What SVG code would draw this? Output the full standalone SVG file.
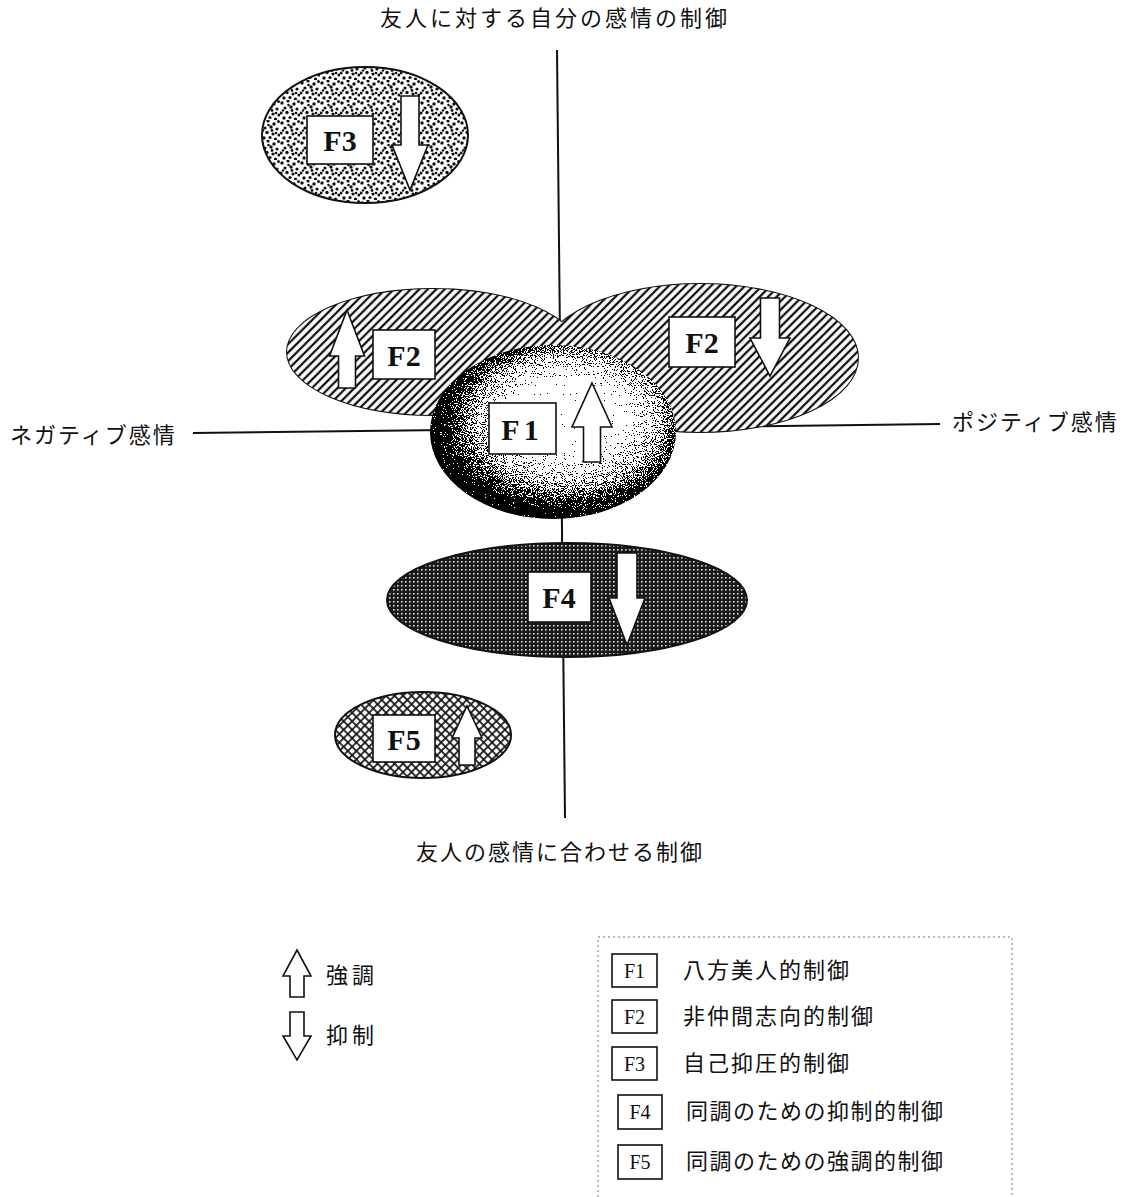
<svg xmlns="http://www.w3.org/2000/svg" width="1130" height="1197" viewBox="0 0 1130 1197">
<style>
.jp{font-family:"Noto Sans CJK JP","Noto Sans CJK SC",sans-serif;font-size:22px;fill:#111;}
.bx{fill:#fff;stroke:#111;stroke-width:1.6;}
.bt{font-family:"Liberation Serif",serif;font-weight:bold;font-size:30px;fill:#111;text-anchor:middle;dominant-baseline:central;}
.lt{font-family:"Liberation Serif",serif;font-size:20px;fill:#111;text-anchor:middle;dominant-baseline:central;}
.arr{fill:#fff;stroke:#111;stroke-width:1.6;stroke-linejoin:miter;}
.ax{stroke:#111;stroke-width:2;fill:none;}
.ol{fill:none;stroke:#111;stroke-width:2;}
</style>
<defs>
<pattern id="stip" width="20" height="20" patternUnits="userSpaceOnUse">
<rect width="20" height="20" fill="#fff"/>
<g fill="#111">
<circle cx="2" cy="3" r="1.7"/><circle cx="8" cy="1" r="1.6"/><circle cx="14" cy="4" r="1.7"/><circle cx="18.5" cy="1.5" r="1.5"/>
<circle cx="5" cy="8" r="1.6"/><circle cx="11" cy="7" r="1.7"/><circle cx="17" cy="9" r="1.6"/><circle cx="1" cy="13" r="1.6"/>
<circle cx="7" cy="12.5" r="1.7"/><circle cx="13" cy="14" r="1.6"/><circle cx="19" cy="15" r="1.6"/><circle cx="4" cy="18" r="1.7"/>
<circle cx="10" cy="17.5" r="1.6"/><circle cx="15.5" cy="19" r="1.6"/><circle cx="12" cy="10.5" r="1.4"/><circle cx="8.5" cy="5" r="1.3"/>
<circle cx="16" cy="13" r="1.3"/><circle cx="3" cy="10.5" r="1.2"/>
</g>
</pattern>
<pattern id="hatch" width="6" height="6" patternUnits="userSpaceOnUse" patternTransform="rotate(-45)">
<rect width="6" height="6" fill="#fff"/>
<line x1="0" y1="3" x2="6" y2="3" stroke="#111" stroke-width="2.3"/>
</pattern>
<pattern id="cross" width="6" height="6" patternUnits="userSpaceOnUse" patternTransform="rotate(45)">
<rect width="6" height="6" fill="#fff"/>
<line x1="0" y1="3" x2="6" y2="3" stroke="#111" stroke-width="1.7"/>
<line x1="3" y1="0" x2="3" y2="6" stroke="#111" stroke-width="1.7"/>
</pattern>
<pattern id="grid" width="4" height="4" patternUnits="userSpaceOnUse">
<rect width="4" height="4" fill="#1a1a1a"/>
<rect x="1" y="1" width="1.6" height="1.6" fill="#ddd"/>
</pattern>
<radialGradient id="f1g" cx="0.55" cy="0.45" r="0.56" fx="0.58" fy="0.38">
<stop offset="0" stop-color="#fff"/>
<stop offset="0.38" stop-color="#fafafa"/>
<stop offset="0.68" stop-color="#9a9a9a"/>
<stop offset="0.88" stop-color="#333"/>
<stop offset="1" stop-color="#000"/>
</radialGradient>
<filter id="dither" x="0" y="0" width="1" height="1" color-interpolation-filters="sRGB">
<feTurbulence type="fractalNoise" baseFrequency="0.9" numOctaves="1" seed="7" result="n"/>
<feColorMatrix in="n" type="matrix" values="2.2 0 0 0 -0.6  2.2 0 0 0 -0.6  2.2 0 0 0 -0.6  0 0 0 0 1" result="g"/>
<feComposite in="SourceGraphic" in2="g" operator="arithmetic" k1="0" k2="1" k3="1" k4="-0.5" result="s"/>
<feComponentTransfer in="s" result="t">
<feFuncR type="discrete" tableValues="0 1"/>
<feFuncG type="discrete" tableValues="0 1"/>
<feFuncB type="discrete" tableValues="0 1"/>
<feFuncA type="linear" slope="1"/>
</feComponentTransfer>
<feComposite in="t" in2="SourceAlpha" operator="in"/>
</filter>
</defs>

<g id="axes">
<line class="ax" x1="557" y1="50" x2="565" y2="818"/>
<line class="ax" x1="193" y1="433" x2="940" y2="424"/>
</g>

<g id="labels">
<text class="jp" x="555" y="26" text-anchor="middle" letter-spacing="3">友人に対する自分の感情の制御</text>
<text class="jp" x="10" y="443" letter-spacing="2">ネガティブ感情</text>
<text class="jp" x="952" y="430" letter-spacing="2">ポジティブ感情</text>
<text class="jp" x="560" y="860" text-anchor="middle" letter-spacing="2">友人の感情に合わせる制御</text>
</g>

<g id="F3">
<ellipse cx="365" cy="135" rx="103" ry="68" fill="url(#stip)" stroke="#111" stroke-width="2"/>
<rect class="bx" x="307" y="116" width="66" height="48"/>
<text class="bt" x="340" y="140">F3</text>
<path class="arr" d="M401,96 L419,96 L419,145 L428,145 L410,190 L392,145 L401,145 Z"/>
</g>

<g id="F2">
<ellipse class="ol" cx="700" cy="358" rx="158" ry="74"/>
<ellipse class="ol" cx="433" cy="352" rx="146" ry="63"/>
<ellipse cx="700" cy="358" rx="158" ry="74" fill="url(#hatch)"/>
<ellipse cx="433" cy="352" rx="146" ry="63" fill="url(#hatch)"/>
<rect class="bx" x="373" y="330" width="62" height="49"/>
<text class="bt" x="404" y="355">F2</text>
<path class="arr" d="M347,310 L364.5,356 L355.5,356 L355.5,388 L338.5,388 L338.5,356 L329.5,356 Z"/>
<rect class="bx" x="669" y="317" width="66" height="50"/>
<text class="bt" x="702" y="342">F2</text>
<path class="arr" d="M760.5,298 L779.5,298 L779.5,338 L790,338 L770,376 L750,338 L760.5,338 Z"/>
</g>

<g id="F1">
<ellipse cx="553" cy="432" rx="123" ry="87" fill="url(#f1g)" filter="url(#dither)"/>
<rect class="bx" x="489" y="403" width="67" height="51"/>
<text class="bt" x="522" y="429" letter-spacing="4">F1</text>
<path class="arr" d="M592,383 L612,427 L600.5,427 L600.5,462 L583.5,462 L583.5,427 L572,427 Z"/>
</g>

<g id="F4">
<ellipse cx="567" cy="600" rx="180" ry="57" fill="url(#grid)" stroke="#111" stroke-width="2"/>
<rect class="bx" x="528" y="572" width="63" height="50"/>
<text class="bt" x="559" y="597">F4</text>
<path class="arr" d="M617,553 L637,553 L637,598 L645,598 L627,645 L609,598 L617,598 Z"/>
</g>

<g id="F5">
<ellipse cx="423" cy="735" rx="88" ry="43" fill="url(#cross)" stroke="#111" stroke-width="2"/>
<rect class="bx" x="373" y="715" width="62" height="47"/>
<text class="bt" x="404" y="739">F5</text>
<path class="arr" d="M467,706 L482,738 L475,738 L475,765 L459,765 L459,738 L452,738 Z"/>
</g>

<g id="legend-arrows">
<path class="arr" d="M297,950 L311,976 L304,976 L304,997 L290,997 L290,976 L283,976 Z"/>
<text class="jp" x="326" y="983" font-size="20" letter-spacing="4">強調</text>
<path class="arr" d="M290,1012 L304,1012 L304,1036 L311,1036 L297,1060 L283,1036 L290,1036 Z"/>
<text class="jp" x="326" y="1043" font-size="20" letter-spacing="4">抑制</text>
</g>

<g id="legend">
<path d="M598,1197 L598,937 L1012,937 L1012,1197" fill="none" stroke="#777" stroke-width="1" stroke-dasharray="2 3"/>
<rect class="bx" x="612" y="954" width="45" height="33"/>
<text class="lt" x="634.5" y="971">F1</text>
<text class="jp" x="683" y="978" letter-spacing="2">八方美人的制御</text>
<rect class="bx" x="612" y="1000" width="45" height="33"/>
<text class="lt" x="634.5" y="1017">F2</text>
<text class="jp" x="683" y="1024" letter-spacing="2">非仲間志向的制御</text>
<rect class="bx" x="612" y="1047" width="45" height="33"/>
<text class="lt" x="634.5" y="1064">F3</text>
<text class="jp" x="683" y="1071" letter-spacing="2">自己抑圧的制御</text>
<rect class="bx" x="618" y="1095" width="44" height="34"/>
<text class="lt" x="640" y="1112">F4</text>
<text class="jp" x="686" y="1119" letter-spacing="1.5">同調のための抑制的制御</text>
<rect class="bx" x="618" y="1145" width="44" height="34"/>
<text class="lt" x="640" y="1162">F5</text>
<text class="jp" x="686" y="1169" letter-spacing="1.5">同調のための強調的制御</text>
</g>
</svg>
